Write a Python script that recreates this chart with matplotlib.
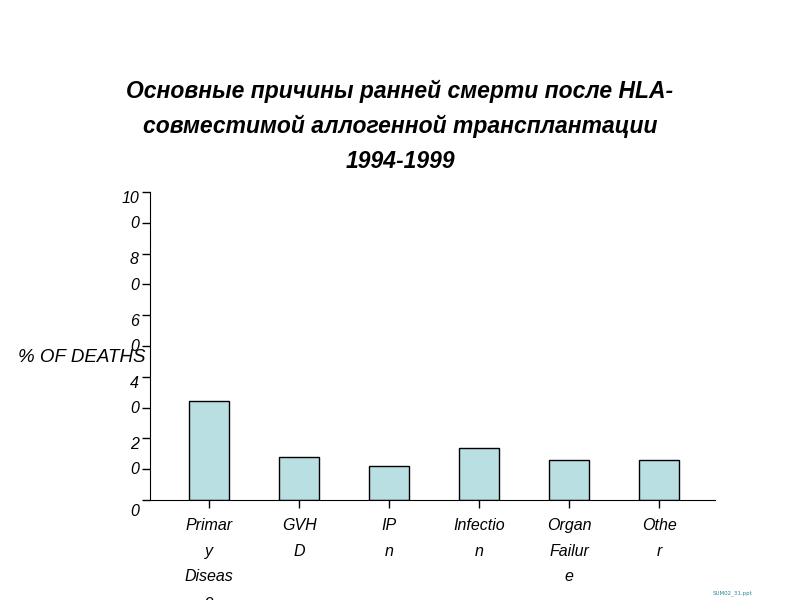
import matplotlib
matplotlib.use("Agg")
import matplotlib.pyplot as plt

categories = ["Primar\ny\nDiseas\ne", "GVH\nD", "IP\nn", "Infectio\nn", "Organ\nFailur\ne", "Othe\nr"]
values = [32, 14, 11, 17, 13, 13]
tick_values = list(range(0, 101, 10))
label_texts = {0: "0", 20: "2\n0", 40: "4\n0", 60: "6\n0", 80: "8\n0", 100: "10\n0"}

BAR = "#b9dfe3"

fig = plt.figure(figsize=(8, 6), dpi=100)
ax = fig.add_axes([0.1875, 0.1667, 0.7063, 0.5133])
x = range(len(values))
ax.bar(x, values, width=0.44, color=BAR, edgecolor="black", linewidth=1)
ax.set_xlim(-0.656, 5.62)
ax.set_ylim(0, 100)
ax.set_yticks(tick_values)
ax.set_yticklabels([])
ax.set_xticks(list(x))
ax.set_xticklabels([])
ax.tick_params(axis="y", length=6, width=1)
ax.tick_params(axis="x", length=6, width=1, direction="out")
ax.spines[["top", "right"]].set_visible(False)

style = dict(fontsize=11.5, fontstyle="italic", family="Liberation Sans", linespacing=1.85)
# last line of each split label sits on the tick 10 units lower
for v, t in label_texts.items():
    ypos = (v - 10 if v > 0 else -3.5) - 1.7
    ax.text(-0.78, ypos, t, ha="right", va="baseline", **style)

for i, c in enumerate(categories):
    ax.text(i, -6, c, ha="center", va="top", clip_on=False, **style)

fig.text(0.022, 0.405, "% OF DEATHS", fontsize=13.5, fontstyle="italic",
         family="Liberation Sans", ha="left", va="center")
fig.text(0.5, 0.79, "Основные причины ранней смерти после HLA-\nсовместимой аллогенной трансплантации\n1994-1999",
         fontsize=16.5, fontweight="bold", fontstyle="italic", family="Liberation Sans",
         ha="center", va="center", linespacing=1.65)
fig.text(0.94, 0.007, "SUM02_31.ppt", fontsize=4, color="#2a8a9a", ha="right", va="bottom")
fig.savefig("out.png", dpi=100)
